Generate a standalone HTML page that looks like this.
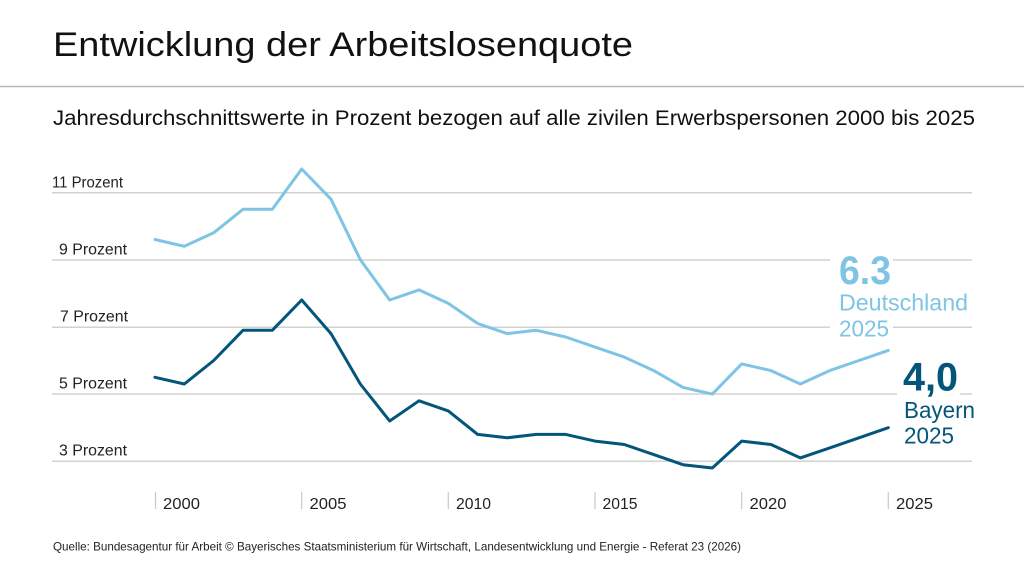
<!DOCTYPE html>
<html>
<head>
<meta charset="utf-8">
<style>
  html,body{margin:0;padding:0;background:#fff;}
  svg{display:block;}
  text{font-family:"Liberation Sans",Arial,sans-serif;}
</style>
</head>
<body>
<svg width="1024" height="570" viewBox="0 0 1024 570" xmlns="http://www.w3.org/2000/svg">
  <rect width="1024" height="570" fill="#fff"/>
  <!-- Title -->
  <text x="53" y="56" font-size="34" fill="#111" textLength="580" lengthAdjust="spacingAndGlyphs">Entwicklung der Arbeitslosenquote</text>
  <line x1="0" y1="86.5" x2="1024" y2="86.5" stroke="#b8b8b8" stroke-width="1.5"/>
  <text x="53" y="125" font-size="21.5" fill="#111" textLength="922" lengthAdjust="spacingAndGlyphs">Jahresdurchschnittswerte in Prozent bezogen auf alle zivilen Erwerbspersonen 2000 bis 2025</text>

  <!-- Gridlines -->
  <g stroke="#d2d2d2" stroke-width="1.5">
    <line x1="52" y1="192.7" x2="972" y2="192.7"/>
    <line x1="52" y1="260" x2="972" y2="260"/>
    <line x1="52" y1="327.3" x2="972" y2="327.3"/>
    <line x1="52" y1="394" x2="972" y2="394"/>
    <line x1="52" y1="461.3" x2="972" y2="461.3"/>
  </g>

  <!-- Y labels -->
  <g font-size="15.5" fill="#222">
    <text x="52" y="187.3" textLength="71" lengthAdjust="spacingAndGlyphs">11 Prozent</text>
    <text x="59" y="254.5" textLength="68" lengthAdjust="spacingAndGlyphs">9 Prozent</text>
    <text x="60" y="321.7" textLength="68" lengthAdjust="spacingAndGlyphs">7 Prozent</text>
    <text x="59" y="388.5" textLength="68" lengthAdjust="spacingAndGlyphs">5 Prozent</text>
    <text x="59" y="455.7" textLength="68" lengthAdjust="spacingAndGlyphs">3 Prozent</text>
  </g>

  <!-- X ticks -->
  <g stroke="#c8c8c8" stroke-width="1.2">
    <line x1="155.5" y1="492" x2="155.5" y2="509"/>
    <line x1="301.7" y1="492" x2="301.7" y2="509"/>
    <line x1="448.3" y1="492" x2="448.3" y2="509"/>
    <line x1="595" y1="492" x2="595" y2="509"/>
    <line x1="741.7" y1="492" x2="741.7" y2="509"/>
    <line x1="888.3" y1="492" x2="888.3" y2="509"/>
  </g>
  <g font-size="16" fill="#222">
    <text x="163" y="509" textLength="37" lengthAdjust="spacingAndGlyphs">2000</text>
    <text x="309.5" y="509" textLength="37" lengthAdjust="spacingAndGlyphs">2005</text>
    <text x="456" y="509" textLength="35" lengthAdjust="spacingAndGlyphs">2010</text>
    <text x="602.5" y="509" textLength="35" lengthAdjust="spacingAndGlyphs">2015</text>
    <text x="749.5" y="509" textLength="37" lengthAdjust="spacingAndGlyphs">2020</text>
    <text x="896" y="509" textLength="37" lengthAdjust="spacingAndGlyphs">2025</text>
  </g>

  <!-- Deutschland line -->
  <polyline fill="none" stroke="#7fc4e5" stroke-width="3" stroke-linejoin="round" stroke-linecap="round"
    points="155,239.5 184.3,246.3 213.7,232.8 243,209.3 272.3,209.3 301.7,169 331,199.2 360.3,259.7 389.7,300 419,289.9 448.3,303.4 477.7,323.5 507,333.6 536.3,330.3 565.7,337 595,347.1 624.3,357.1 653.7,370.6 683,387.4 712.3,394.1 741.7,363.9 771,370.6 800.3,384 829.7,370.6 859,360.5 888.3,350.4"/>

  <!-- Bayern line -->
  <polyline fill="none" stroke="#04557a" stroke-width="3" stroke-linejoin="round" stroke-linecap="round"
    points="155,377.3 184.3,384 213.7,360.5 243,330.3 272.3,330.3 301.7,300 331,333.6 360.3,384 389.7,421 419,400.8 448.3,410.9 477.7,434.4 507,437.8 536.3,434.4 565.7,434.4 595,441.1 624.3,444.5 653.7,454.6 683,464.7 712.3,468 741.7,441.1 771,444.5 800.3,457.9 829.7,447.9 859,437.8 888.3,427.7"/>

  <!-- Annotation gaps -->
  <rect x="830" y="256" width="63" height="8" fill="#fff"/>
  <rect x="830" y="323" width="63" height="8" fill="#fff"/>
  <rect x="897" y="390" width="63" height="8" fill="#fff"/>

  <!-- Annotations -->
  <g fill="#7fc4e5">
    <text x="839" y="284" font-size="40" font-weight="bold" textLength="52" lengthAdjust="spacingAndGlyphs">6.3</text>
    <text x="839" y="310.5" font-size="23" textLength="129" lengthAdjust="spacingAndGlyphs">Deutschland</text>
    <text x="839" y="336.5" font-size="23" textLength="50" lengthAdjust="spacingAndGlyphs">2025</text>
  </g>
  <g fill="#04557a">
    <text x="903" y="390.7" font-size="40" font-weight="bold" textLength="55" lengthAdjust="spacingAndGlyphs">4,0</text>
    <text x="904" y="418" font-size="23" textLength="71" lengthAdjust="spacingAndGlyphs">Bayern</text>
    <text x="904" y="443.3" font-size="23" textLength="50" lengthAdjust="spacingAndGlyphs">2025</text>
  </g>

  <!-- Footer -->
  <text x="53" y="550.5" font-size="12" fill="#222" textLength="688" lengthAdjust="spacingAndGlyphs">Quelle: Bundesagentur für Arbeit © Bayerisches Staatsministerium für Wirtschaft, Landesentwicklung und Energie - Referat 23 (2026)</text>
</svg>
</body>
</html>
